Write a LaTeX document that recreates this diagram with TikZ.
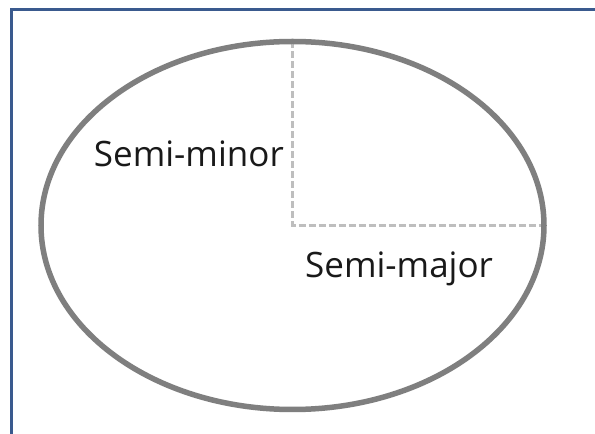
\documentclass[tikz,border=0pt]{standalone}
\usepackage{fontspec}
\setmainfont{Open Sans}
\definecolor{frameblue}{HTML}{3A5A8E}
\definecolor{ringgray}{HTML}{7F7F7F}
\definecolor{dashgray}{HTML}{BEBEBE}
\begin{document}
\begin{tikzpicture}[x=1pt,y=1pt,
  frameline/.style={draw=frameblue,line width=3pt},
  ring/.style={draw=ringgray,line width=5.5pt},
  axisline/.style={draw=dashgray,line width=3pt,dash pattern=on 7pt off 3pt},
  lbl/.style={font=\fontsize{35}{40}\selectfont,text=black!90,inner sep=0pt}]
\useasboundingbox (0,0) rectangle (595,434);
\fill[white] (0,0) rectangle (595,434);
\coordinate (fbl) at (11,0);
\coordinate (ftl) at (11,424);
\coordinate (ftr) at (595,424);
\draw[frameline] (fbl) -- (ftl) -- (ftr);
\coordinate (c) at (292.5,208.5);
\coordinate (top) at (292.5,392.5);
\coordinate (right) at (544,208.5);
\draw[axisline] (top) -- (c) -- (right);
\draw[ring] (c) ellipse [x radius=251.5, y radius=184];
\node[lbl,anchor=base east] (minor) at (284,267) {Semi-minor};
\node[lbl,anchor=base west] (major) at (305,156) {Semi-major};
\end{tikzpicture}
\end{document}
